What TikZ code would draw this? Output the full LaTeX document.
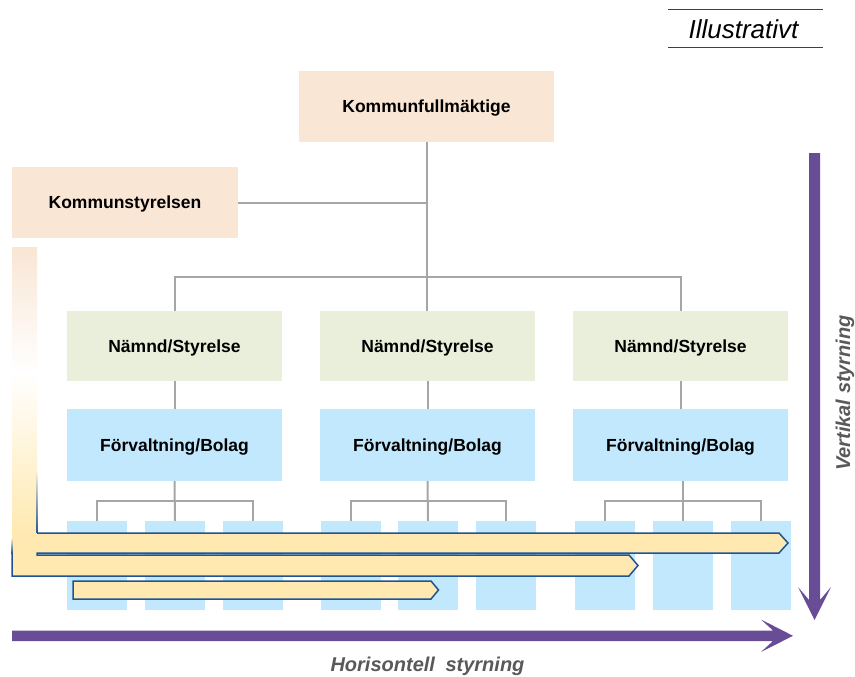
\documentclass[tikz,border=0pt]{standalone}
\usepackage{fontspec}
\setmainfont{Liberation Sans}
\usetikzlibrary{fadings}
\definecolor{peach}{RGB}{249,230,212}
\definecolor{lgreen}{RGB}{233,239,218}
\definecolor{lblue}{RGB}{194,232,253}
\definecolor{ayellow}{RGB}{255,233,176}
\definecolor{aedge}{RGB}{29,84,150}
\definecolor{purp}{RGB}{104,76,150}
\definecolor{conng}{RGB}{166,166,166}
\definecolor{tgray}{RGB}{89,89,89}
\definecolor{lgray}{RGB}{64,64,64}
\begin{document}
\begin{tikzpicture}[x=1pt,y=-1pt,
  box/.style={rectangle, inner sep=0pt, draw=none, font=\fontsize{17.5}{21}\selectfont\bfseries, text=black, text depth=0pt},
  topbox/.style={box, fill=peach, minimum height=71pt},
  nbox/.style={box, fill=lgreen, minimum width=215pt, minimum height=70pt},
  fbox/.style={box, fill=lblue, minimum width=215pt, minimum height=72pt},
  sbox/.style={rectangle, inner sep=0pt, fill=lblue, minimum width=60pt, minimum height=89pt},
  conn/.style={draw=conng, line width=2pt},
  harrow/.style={fill=ayellow},
  hedge/.style={draw=aedge, line width=1.5pt, line join=miter},
  steer/.style={font=\fontsize{20}{24}\selectfont\bfseries\itshape, text=tgray}
]
\useasboundingbox (0,0) rectangle (855,677);

% top label
\node[font=\fontsize{26}{31}\selectfont\itshape] (il) at (743.5,29) {Illustrativt};
\draw[lgray, line width=1.2pt] (668,9.3) -- (823,9.3);
\draw[lgray, line width=1.2pt] (668,47.7) -- (823,47.7);

% boxes
\node[topbox, minimum width=255pt] (kf) at (426.5,106.5) {Kommunfullmäktige};
\node[topbox, minimum width=226pt] (ks) at (125,202.5) {Kommunstyrelsen};

\node[nbox] (n1) at (174.5,346) {Nämnd/Styrelse};
\node[nbox] (n2) at (427.5,346) {Nämnd/Styrelse};
\node[nbox] (n3) at (680.5,346) {Nämnd/Styrelse};

\node[fbox] (f1) at (174.5,445) {Förvaltning/Bolag};
\node[fbox] (f2) at (427.5,445) {Förvaltning/Bolag};
\node[fbox] (f3) at (680.5,445) {Förvaltning/Bolag};

\node[sbox] (s11) at (97,565.5) {};
\node[sbox] (s12) at (175,565.5) {};
\node[sbox] (s13) at (252.5,565.5) {};
\node[sbox] (s21) at (350.5,565.5) {};
\node[sbox] (s22) at (428,565.5) {};
\node[sbox] (s23) at (506,565.5) {};
\node[sbox] (s31) at (605,565.5) {};
\node[sbox] (s32) at (683,565.5) {};
\node[sbox] (s33) at (760.5,565.5) {};

% connectors
\draw[conn] (kf.south) -- (kf.south |- n2.north);
\draw[conn] (ks.east) -- (ks.east -| kf.south);
\draw[conn] (n1.north) -- ++(0,-34) -| (n3.north);
\draw[conn] (n1.south) -- (f1.north);
\draw[conn] (n2.south) -- (f2.north);
\draw[conn] (n3.south) -- (f3.north);
\draw[conn] (f1.south) -- (s12.north);
\draw[conn] (f2.south) -- (s22.north);
\draw[conn] (s32.north |- f3.south) -- (s32.north);
\draw[conn] (s11.north) -- ++(0,-20) -| (s13.north);
\draw[conn] (s21.north) -- ++(0,-20) -| (s23.north);
\draw[conn] (s31.north) -- ++(0,-20) -| (s33.north);

% vertical gradient bar
\shade[top color=peach, bottom color=white] (12,247) rectangle (37,372);
\shade[top color=white, bottom color=ayellow] (12,371.5) rectangle (37,535);
\fill[ayellow] (12,534) rectangle (37,577);

% horizontal steering arrows
\fill[harrow] (37,533)--(779,533)--(788,543)--(779,553)--(37,553)--cycle;
\fill[harrow] (12,555)--(629,555)--(638,565.5)--(629,576)--(12,576)--cycle;
\draw[hedge] (37,533)--(779,533)--(788,543)--(779,553)--(37,553)--(37,555)--(629,555)--(638,565.5)--(629,576)--(12,576)--(12,553);
\fill[aedge, path fading=north] (36.25,470) rectangle (37.75,533.5);
\fill[aedge, path fading=north] (11.25,538) rectangle (12.75,553.5);
\filldraw[harrow, hedge] (73,581)--(431,581)--(438.5,590)--(431,599)--(73,599)--cycle;

% purple arrows
\fill[purp] (809,153)--(820,153)--(820,600)--(831,587)--(814.5,620)--(798,587)--(809,600)--cycle;
\fill[purp] (12,630.5)--(773,630.5)--(761,619.5)--(793,635.8)--(761,652)--(773,641)--(12,641)--cycle;

\node[steer] (hs) at (427.5,666) {Horisontell\hspace{0.25em} styrning};
\node[steer, rotate=90] (vs) at (845,393) {Vertikal styrning};
\end{tikzpicture}
\end{document}
